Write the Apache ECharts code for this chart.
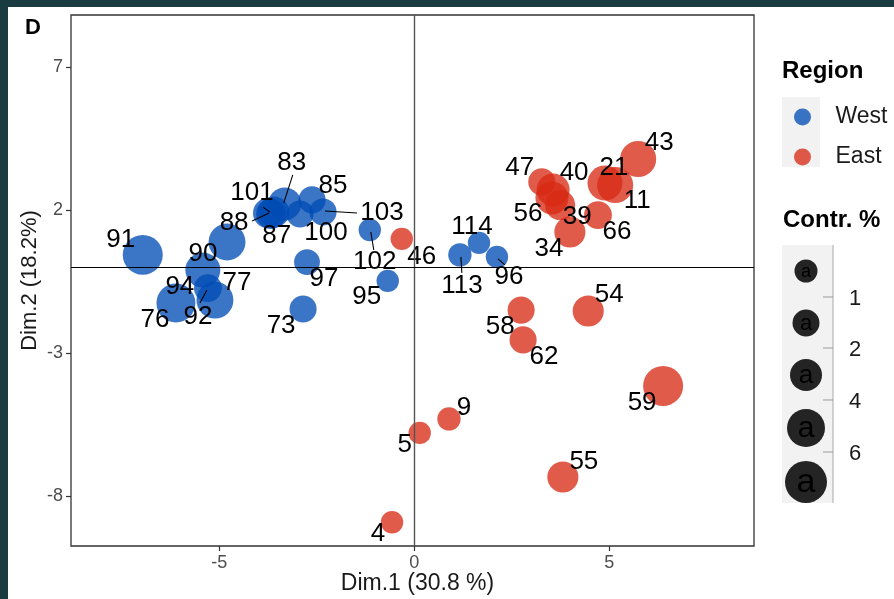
<!DOCTYPE html>
<html><head><meta charset="utf-8">
<script src="https://cdn.jsdelivr.net/npm/echarts@6/dist/echarts.min.js"></script>
<style>html,body{margin:0;padding:0;background:#fff;}#c{width:894px;height:599px;}</style>
</head><body><div id="c"></div>
<script>
// ---- data ----
const westIds = ['91','90','94','92','77','76','101','88','87','83','100','85','103','102','97','95','73','113','114','96'];
const westX   = [-6.96,-4.80,-5.42,-5.29,-5.11,-6.11,-3.75,-3.67,-3.60,-3.32,-2.93,-2.62,-2.34,-1.14,-2.75,-0.68,-2.85,1.17,1.66,2.12];
const westY   = [0.43,0.88,-0.10,-0.73,-1.15,-1.25,1.89,1.86,1.93,2.21,1.86,2.35,1.93,1.30,0.18,-0.48,-1.46,0.43,0.85,0.36];
const westContrib = [7.1,5.1,4.0,1.1,5.1,6.4,1.8,1.8,2.2,3.0,0.9,0.9,0.9,0.1,0.6,0.1,0.9,0.2,0.1,0.1];

const eastIds = ['46','43','47','40','56','39','21','11','66','34','58','62','54','59','9','5','55','4'];
const eastX   = [-0.32,5.74,3.27,3.56,3.53,3.74,4.89,5.15,4.71,3.99,2.74,2.79,4.46,6.38,0.89,0.14,3.81,-0.57];
const eastY   = [0.99,3.78,2.98,2.70,2.42,2.17,2.94,2.87,1.82,1.23,-1.50,-2.54,-1.53,-4.15,-5.30,-5.79,-7.33,-8.91];
const eastContrib = [0.1,4.6,0.9,3.0,3.0,1.8,4.0,4.6,1.1,2.2,0.9,0.9,2.2,7.1,0.2,0.1,2.2,0.1];

const xTicks = [-5, 0, 5];
const yTicks = [-8, -3, 2, 7];
const sizeBreakLabels = ['1','2','4','6'];
const sizeKeyValues = [0.16, 0.87, 2.56, 5.76, 8.6];

// ---- label layout (pixel offsets of label centre from point centre) ----
const labelOffsets = {
  '91':[-22,-15],'90':[-24,12],'94':[-23,17],'92':[-10,29],'77':[22,-17],'76':[-21,17],
  '101':[-16,-20],'88':[-37,9],'87':[3,24],'83':[7,-41],'100':[26,19],'85':[21,-14],
  '103':[59,1],'102':[5,32],'97':[17,17],'95':[-21,16],'73':[-22,17],'113':[2,31],
  '114':[-7,-16],'96':[12,20],
  '46':[20,18],'43':[21,-16],'47':[-22,-14],'40':[21,-17],'56':[-24,16],'39':[17,12],
  '21':[9,-15],'11':[22,16],'66':[19,17],'34':[-21,17],'58':[-21,17],'62':[21,17],
  '54':[21,-16],'59':[-21,17],'9':[15,-11],'5':[-15,12],'55':[21,-15],'4':[-14,12]
};
// leader segments: [dx1,dy1,dx2,dy2] relative to point centre
const segments = {
  '92':[-1,2,-8,15],'101':[-5,-6,2,-1],'88':[-19,7,-2,-1],'83':[8,-29,-1,-1],
  '103':[2,-1,34,1],'102':[1,2,4,20],'113':[1,2,2,18],'96':[1,2,8,8]
};

const FONT = "'Liberation Sans', Arial, Helvetica, sans-serif";
const BLUE = 'rgba(0,76,181,0.77)';
const RED = 'rgba(216,41,19,0.77)';
const sizeOf = v => 20 + 7.5 * Math.sqrt(v);

function build(ids, xs, ys, cs) {
  return ids.map((id, i) => ({
    name: id, value: [xs[i], ys[i], cs[i]],
    label: { offset: labelOffsets[id] || [0,0] }
  }));
}
const westData = build(westIds, westX, westY, westContrib);
const eastData = build(eastIds, eastX, eastY, eastContrib);

const lookup = {};
westIds.forEach((id,i)=>lookup[id]=[westX[i],westY[i]]);
eastIds.forEach((id,i)=>lookup[id]=[eastX[i],eastY[i]]);
const segIds = Object.keys(segments);
const segData = segIds.map(id => lookup[id]);

const labelCfg = {
  show: true, position: 'inside', formatter: p => p.name,
  fontFamily: FONT, fontSize: 26, color: '#000', align: 'center', verticalAlign: 'middle'
};

const chart = echarts.init(document.getElementById('c'), null, {renderer: 'canvas'});

const g = [];
g.push({type:'rect', shape:{x:0,y:0,width:894,height:7}, style:{fill:'#1a3b3f'}, z:10});
g.push({type:'rect', shape:{x:0,y:0,width:8,height:599}, style:{fill:'#1a3b3f'}, z:10});
g.push({type:'text', x:25, y:28, style:{text:'D', font:"bold 22px "+FONT, fill:'#000', textVerticalAlign:'middle'}});
g.push({type:'text', x:782, y:71, style:{text:'Region', font:"bold 24px "+FONT, fill:'#000', textVerticalAlign:'middle'}});
g.push({type:'rect', shape:{x:782,y:97,width:38,height:70}, style:{fill:'#f2f2f2'}, z:0});
g.push({type:'text', x:783, y:220, style:{text:'Contr. %', font:"bold 24px "+FONT, fill:'#000', textVerticalAlign:'middle'}});
g.push({type:'rect', shape:{x:782,y:245,width:51,height:258}, style:{fill:'#f2f2f2'}});
g.push({type:'line', shape:{x1:833,y1:245,x2:833,y2:503}, style:{stroke:'#aaa', lineWidth:1}});
const keyY = [271,323,375,428,482];
const tickY = [297,348,400,452];
sizeBreakLabels.forEach((t,i)=>{
  g.push({type:'line', shape:{x1:823,y1:tickY[i],x2:833,y2:tickY[i]}, style:{stroke:'#999', lineWidth:1}});
  g.push({type:'text', x:849, y:tickY[i]+2, style:{text:t, font:"22px "+FONT, fill:'#1a1a1a', textVerticalAlign:'middle'}});
});
sizeKeyValues.forEach((v,i)=>{
  const d = sizeOf(v);
  g.push({type:'circle', shape:{cx:806, cy:keyY[i], r:d/2}, style:{fill:'rgba(0,0,0,0.85)'}});
  g.push({type:'text', x:806, y:keyY[i]+1, style:{text:'a', font:Math.round(d*0.8)+"px "+FONT, fill:'#000', textAlign:'center', textVerticalAlign:'middle'}});
});

chart.setOption({
  animation: false,
  backgroundColor: '#fff',
  grid: { left: 71, right: 140, top: 15, bottom: 53, containLabel: false, outerBoundsMode: 'none',
          show: true, borderColor: '#333', borderWidth: 1.3, backgroundColor: 'transparent' },
  xAxis: {
    type: 'value', min: -8.80, max: 8.71,
    name: 'Dim.1 (30.8 %)', nameLocation: 'middle', nameGap: 26, nameMoveOverlap: false,
    nameTextStyle: { fontFamily: FONT, fontSize: 23, color: '#1a1a1a', padding: [0,0,0,10] },
    axisLine: { show: false, onZero: false },
    splitLine: { show: false },
    axisTick: { show: true, length: 5, customValues: xTicks, lineStyle: { color: '#333', width: 1.2 } },
    axisLabel: { customValues: xTicks, margin: 8, fontFamily: FONT, fontSize: 18, color: '#4d4d4d' }
  },
  yAxis: {
    type: 'value', min: -9.74, max: 8.81,
    name: 'Dim.2 (18.2%)', nameLocation: 'middle', nameGap: 30, nameMoveOverlap: false,
    nameTextStyle: { fontFamily: FONT, fontSize: 22, color: '#1a1a1a' },
    axisLine: { show: false, onZero: false },
    splitLine: { show: false },
    axisTick: { show: true, length: 5, customValues: yTicks, lineStyle: { color: '#333', width: 1.2 } },
    axisLabel: { customValues: yTicks, margin: 8, fontFamily: FONT, fontSize: 18, color: '#4d4d4d' }
  },
  legend: {
    data: ['West','East'], orient: 'vertical', left: 789, top: 100,
    icon: 'circle', itemWidth: 40, itemHeight: 17, itemGap: 16, symbolKeepAspect: true,
    textStyle: { fontFamily: FONT, fontSize: 23, color: '#1a1a1a', lineHeight: 24, padding: [0,0,0,8] },
    selectedMode: false
  },
  graphic: g,
  series: [
    { type: 'scatter', name: 'ref', data: [], z: 1, silent: true,
      markLine: { silent: true, symbol: 'none', label: {show:false},
        lineStyle: { color: '#000', width: 1.2, type: 'solid' },
        data: [{ xAxis: 0, lineStyle: { color: '#555', width: 1.4 } }, { yAxis: 0 }] } },
    { type: 'custom', name: 'segs', z: 4, silent: true, data: segData,
      renderItem: (params, api) => {
        const id = segIds[params.dataIndex];
        const p = api.coord([api.value(0), api.value(1)]);
        const s = segments[id];
        return { type: 'line', shape: { x1: p[0]+s[0], y1: p[1]+s[1], x2: p[0]+s[2], y2: p[1]+s[3] },
                 style: { stroke: '#000', lineWidth: 1.1 } };
      } },
    { type: 'scatter', name: 'West', data: westData, z: 3,
      symbolSize: v => sizeOf(v[2]), itemStyle: { color: BLUE, opacity: 1 }, label: labelCfg },
    { type: 'scatter', name: 'East', data: eastData, z: 3,
      symbolSize: v => sizeOf(v[2]), itemStyle: { color: RED, opacity: 1 }, label: labelCfg }
  ]
});
</script></body></html>
